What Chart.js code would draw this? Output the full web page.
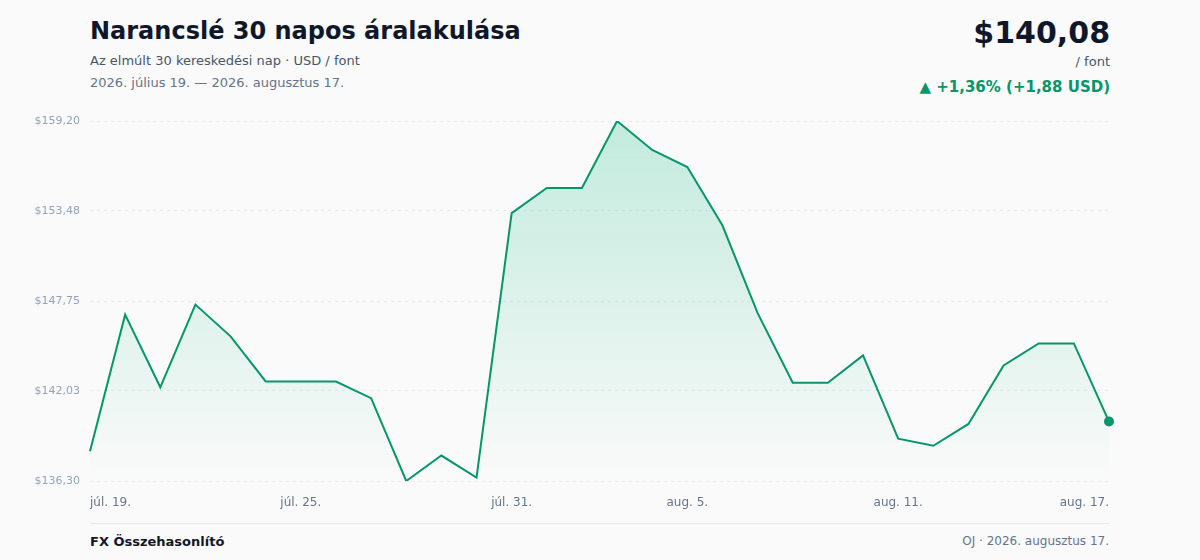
<!DOCTYPE html>
<html lang="hu">
<head>
<meta charset="utf-8">
<script src="https://cdn.jsdelivr.net/npm/chart.js@4.4.1/dist/chart.umd.min.js"></script>
<style>
  html, body { margin: 0; padding: 0; background: #fafafa; }
  body { width: 1200px; height: 560px; position: relative; overflow: hidden; font-family: "DejaVu Sans", sans-serif; }
  .title { position: absolute; left: 90px; top: 17px; font-size: 24px; font-weight: bold; color: #0f172a; }
  .sub { position: absolute; left: 90px; top: 53px; font-size: 13px; color: #475569; }
  .dates { position: absolute; left: 90px; top: 75px; font-size: 13px; color: #64748b; }
  .price { position: absolute; right: 90px; top: 15px; font-size: 30px; font-weight: bold; color: #0f172a; }
  .unit { position: absolute; right: 90px; top: 54px; font-size: 13px; color: #475569; }
  .chg { position: absolute; right: 90px; top: 78px; font-size: 15px; font-weight: bold; color: #059669; }
  .wrap { position: absolute; left: 0; top: 100.5px; width: 1124px; height: 420px; }
  .sep { position: absolute; left: 90px; width: 1019px; top: 523px; height: 1px; background: #e5e7eb; }
  .foot-l { position: absolute; left: 90px; top: 534px; font-size: 13px; font-weight: bold; color: #111827; }
  .foot-r { position: absolute; right: 91px; top: 534px; font-size: 12px; color: #64748b; }
</style>
</head>
<body>
<div class="title">Narancslé 30 napos áralakulása</div>
<div class="sub">Az elmúlt 30 kereskedési nap · USD / font</div>
<div class="dates">2026. július 19. — 2026. augusztus 17.</div>
<div class="price">$140,08</div>
<div class="unit">/ font</div>
<div class="chg">▲ +1,36% (+1,88 USD)</div>
<div class="wrap"><canvas id="c"></canvas></div>
<div class="sep"></div>
<div class="foot-l">FX Összehasonlító</div>
<div class="foot-r">OJ · 2026. augusztus 17.</div>
<script>
const dates = [
  "júl. 19.","júl. 20.","júl. 21.","júl. 22.","júl. 23.","júl. 24.","júl. 25.","júl. 26.","júl. 27.","júl. 28.",
  "júl. 29.","júl. 30.","júl. 31.","aug. 1.","aug. 2.","aug. 3.","aug. 4.","aug. 5.","aug. 6.","aug. 7.",
  "aug. 8.","aug. 9.","aug. 10.","aug. 11.","aug. 12.","aug. 13.","aug. 14.","aug. 15.","aug. 16.","aug. 17."
];
const prices = [
  138.20,146.88,142.26,147.52,145.50,142.63,142.63,142.63,141.57,136.30,
  137.92,136.52,153.34,154.94,154.94,159.20,157.36,156.27,152.55,146.98,
  142.55,142.55,144.29,138.99,138.54,139.93,143.65,145.05,145.05,140.08
];
const yTicks = [136.30, 142.03, 147.75, 153.48, 159.20];
const xTickIdx = [0, 6, 12, 17, 23, 29];

const fmt = v => '$' + v.toFixed(2).replace('.', ',');
const ctx = document.getElementById('c');
new Chart(ctx, {
  type: 'line',
  data: {
    labels: dates,
    datasets: [{
      data: prices,
      borderColor: '#059669',
      borderWidth: 2,
      tension: 0,
      fill: 'start',
      backgroundColor: (c) => {
        const a = c.chart.chartArea;
        if (!a) return 'rgba(16,185,129,0.1)';
        const g = c.chart.ctx.createLinearGradient(0, a.top, 0, a.bottom);
        g.addColorStop(0, 'rgba(16,185,129,0.24)');
        g.addColorStop(1, 'rgba(16,185,129,0.0)');
        return g;
      },
      pointRadius: prices.map((v, i) => i === prices.length - 1 ? 5 : 0),
      pointBackgroundColor: '#059669',
      pointBorderColor: '#059669',
      pointBorderWidth: 0,
      pointHoverRadius: 0
    }]
  },
  options: {
    responsive: true,
    maintainAspectRatio: false,
    animation: false,
    layout: { padding: { top: 20, right: 6, bottom: 0, left: 0 } },
    plugins: { legend: { display: false }, tooltip: { enabled: false } },
    scales: {
      x: {
        offset: false,
        grid: { display: false, drawTicks: false },
        border: { display: false },
        afterFit: (s) => { s.height = 40; },
        ticks: {
          autoSkip: false,
          maxRotation: 0,
          align: 'inner',
          padding: 15,
          color: '#64748b',
          font: { family: 'DejaVu Sans', size: 12 },
          callback: (v, i) => xTickIdx.includes(i) ? dates[i] : ''
        }
      },
      y: {
        min: yTicks[0],
        max: yTicks[yTicks.length - 1],
        afterBuildTicks: (s) => { s.ticks = yTicks.map(v => ({ value: v })); },
        afterFit: (s) => { s.width = 90; },
        grid: { color: '#e8eaee', lineWidth: 1, drawTicks: false },
        border: { display: false, dash: [3, 4] },
        ticks: {
          padding: 10,
          color: '#94a3b8',
          font: { family: 'DejaVu Sans', size: 11 },
          callback: (v) => fmt(v)
        }
      }
    }
  }
});
</script>
</body>
</html>
